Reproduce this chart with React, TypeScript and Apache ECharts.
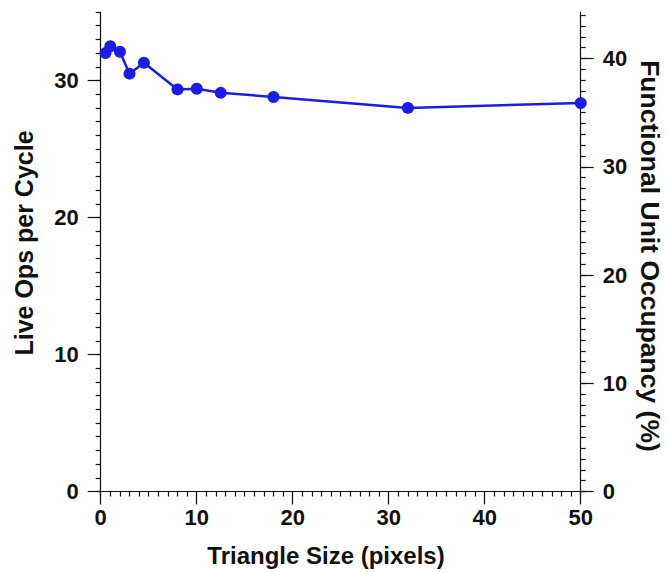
import { useEffect, useRef } from "react";
import * as echarts from "echarts";

// Data
const triangleSizes = [0.5, 1, 2, 3, 4.5, 8, 10, 12.5, 18, 32, 50];
const liveOpsPerCycle = [32.0, 32.5, 32.1, 30.5, 31.3, 29.35, 29.4, 29.1, 28.8, 28.0, 28.35];

// Tick labels
const xTickLabels = [0, 10, 20, 30, 40, 50];
const leftTickLabels = [0, 10, 20, 30];
const rightTickLabels = [0, 10, 20, 30, 40];

const X_MAX = 50;
const LEFT_MAX = 35;
const RIGHT_MAX = 44.3;

const integerTicks = (max: number) => Array.from({ length: Math.floor(max) + 1 }, (_, i) => i);

const FONT = "'Liberation Sans', Arial, Helvetica, sans-serif";
const AXIS_COLOR = "#111";
const LINE_COLOR = "#1c1ce6";

export default function App() {
  const ref = useRef<HTMLDivElement>(null);

  useEffect(() => {
    if (!ref.current) return;
    const chart = echarts.init(ref.current, null, { renderer: "svg" });

    const lineStyle = { color: AXIS_COLOR, width: 1.2 };
    const labelStyle = {
      color: "#111",
      fontFamily: FONT,
      fontWeight: "bold" as const,
      fontSize: 22,
    };

    const minorAxis = (min: number, max: number, position: string, ticks: number[]) => ({
      type: "value",
      min,
      max,
      position,
      axisLine: { show: true, onZero: false, lineStyle },
      axisTick: { show: true, customValues: ticks, length: 5, lineStyle },
      axisLabel: { show: false },
      splitLine: { show: false },
      minorTick: { show: false },
    });
    const majorAxis = (
      min: number,
      max: number,
      position: string,
      ticks: number[],
      margin: number
    ) => ({
      type: "value",
      min,
      max,
      position,
      axisLine: { show: false, onZero: false },
      axisTick: { show: true, customValues: ticks, length: 13, lineStyle },
      axisLabel: { show: true, customValues: ticks, margin, ...labelStyle },
      splitLine: { show: false },
      minorTick: { show: false },
    });

    chart.setOption({
      animation: false,
      backgroundColor: "#fff",
      grid: { left: 100.7, right: 87.3, top: 12, bottom: 80.5 },
      xAxis: [
        minorAxis(0, X_MAX, "bottom", integerTicks(X_MAX)),
        majorAxis(0, X_MAX, "bottom", xTickLabels, 15),
      ],
      yAxis: [
        minorAxis(0, LEFT_MAX, "left", integerTicks(LEFT_MAX)),
        majorAxis(0, LEFT_MAX, "left", leftTickLabels, 22),
        minorAxis(0, RIGHT_MAX, "right", integerTicks(RIGHT_MAX)),
        majorAxis(0, RIGHT_MAX, "right", rightTickLabels, 22),
      ],
      series: [
        {
          type: "line",
          xAxisIndex: 0,
          yAxisIndex: 0,
          data: triangleSizes.map((x, i) => [x, liveOpsPerCycle[i]]),
          symbol: "circle",
          symbolSize: 12,
          clip: false,
          itemStyle: { color: LINE_COLOR },
          lineStyle: { color: LINE_COLOR, width: 2.5 },
        },
      ],
      graphic: [
        {
          type: "text",
          x: 326,
          y: 555,
          style: {
            text: "Triangle Size (pixels)",
            fontFamily: FONT,
            fontWeight: "bold",
            fontSize: 24,
            fill: "#111",
            align: "center",
            verticalAlign: "middle",
          },
        },
        {
          type: "text",
          x: 24,
          y: 243,
          rotation: Math.PI / 2,
          style: {
            text: "Live Ops per Cycle",
            fontFamily: FONT,
            fontWeight: "bold",
            fontSize: 25,
            fill: "#111",
            align: "center",
            verticalAlign: "middle",
          },
        },
        {
          type: "text",
          x: 650,
          y: 256,
          rotation: -Math.PI / 2,
          style: {
            text: "Functional Unit Occupancy (%)",
            fontFamily: FONT,
            fontWeight: "bold",
            fontSize: 26.5,
            fill: "#111",
            align: "center",
            verticalAlign: "middle",
          },
        },
      ],
    });

    return () => chart.dispose();
  }, []);

  return (
    <div
      ref={ref}
      style={{ position: "fixed", left: 0, top: 0, width: 668, height: 572 }}
    />
  );
}
